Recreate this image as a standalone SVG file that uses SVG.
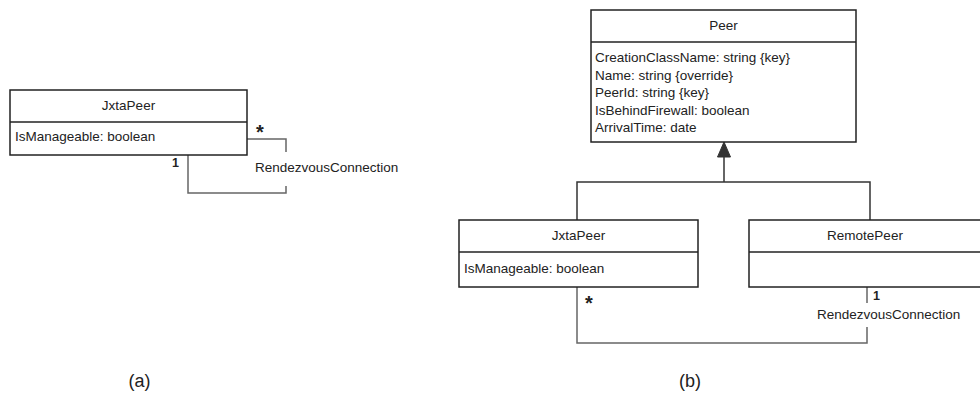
<svg xmlns="http://www.w3.org/2000/svg" width="980" height="394" viewBox="0 0 980 394">
<style>
.box{fill:#fff;stroke:#222;stroke-width:1.5}
.div{stroke:#222;stroke-width:1.5}
text{font-family:"Liberation Sans",Arial,sans-serif;font-size:13.5px;fill:#222}
.c{text-anchor:middle}
.assoc{fill:none;stroke:#666;stroke-width:1.5}
.gen{fill:none;stroke:#333;stroke-width:1.5}
.mult{font-size:12.5px;font-weight:bold}
.star{font-size:20px;font-weight:bold}
.cap{font-size:18px}
</style>
<rect width="980" height="394" fill="#fff"/>
<g id="connectors">
  <polyline class="assoc" points="247,139 286,139 286,152"/>
  <polyline class="assoc" points="286,186 286,193 188,193 188,155"/>
  <polyline class="gen" points="577,220 577,182 870,182 870,220"/>
  <line class="gen" x1="724" y1="182" x2="724" y2="156"/>
  <polygon points="724,142 717.5,157 730.5,157" fill="#333" stroke="#333" stroke-width="1"/>
  <polyline class="assoc" points="577,287 577,343 867,343 867,327"/>
  <line class="assoc" x1="867" y1="287" x2="867" y2="303"/>
  <text class="star" x="256" y="139">*</text>
  <text class="mult" x="172" y="167">1</text>
  <text x="255" y="172">RendezvousConnection</text>
  <text class="star" x="585" y="310">*</text>
  <text class="mult" x="873" y="300">1</text>
  <text x="817" y="319">RendezvousConnection</text>
</g>
<g id="jxtapeer-a">
  <rect class="box" x="10" y="90" width="237" height="65"/>
  <line class="div" x1="10" y1="122" x2="247" y2="122"/>
  <text class="c" x="128.5" y="110">JxtaPeer</text>
  <text x="15" y="141">IsManageable: boolean</text>
</g>
<g id="peer">
  <rect class="box" x="591" y="10" width="265" height="132"/>
  <line class="div" x1="591" y1="42" x2="856" y2="42"/>
  <text class="c" x="723.5" y="30">Peer</text>
  <text x="595" y="62">CreationClassName: string {key}</text>
  <text x="595" y="79.5">Name: string {override}</text>
  <text x="595" y="97">PeerId: string {key}</text>
  <text x="595" y="114.5">IsBehindFirewall: boolean</text>
  <text x="595" y="132">ArrivalTime: date</text>
</g>
<g id="jxtapeer-b">
  <rect class="box" x="459" y="220" width="239" height="67"/>
  <line class="div" x1="459" y1="252" x2="698" y2="252"/>
  <text class="c" x="578.5" y="240">JxtaPeer</text>
  <text x="464" y="273">IsManageable: boolean</text>
</g>
<g id="remotepeer">
  <rect class="box" x="749" y="220" width="240" height="67"/>
  <line class="div" x1="749" y1="252" x2="989" y2="252"/>
  <text class="c" x="865" y="240">RemotePeer</text>
</g>
<g id="captions">
  <text class="cap c" x="139.5" y="387">(a)</text>
  <text class="cap c" x="690" y="387">(b)</text>
</g>
</svg>
